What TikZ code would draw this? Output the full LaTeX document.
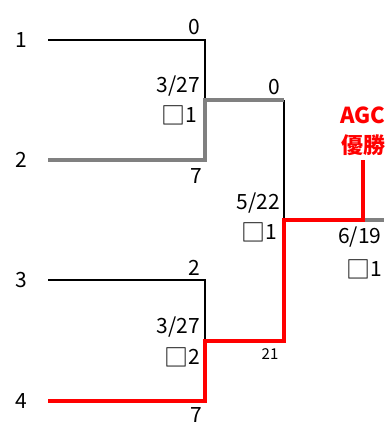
\documentclass[tikz,border=0pt]{standalone}
\usepackage{fontspec}
\setmainfont{Noto Sans CJK JP}
\newcommand{\sqbox}{\raisebox{-1.5pt}{\fontsize{24}{24}\selectfont □}}
\begin{document}
\begin{tikzpicture}[x=1pt,y=-1pt,
  lbl/.style={inner sep=0pt,font=\fontsize{21}{21}\selectfont},
  small/.style={inner sep=0pt,font=\fontsize{15}{15}\selectfont},
  win/.style={inner sep=0pt,text=red,font=\fontsize{22}{22}\selectfont\bfseries},
  thinline/.style={black,line width=2pt},
  grayline/.style={gray,line width=4pt},
  redline/.style={red,line width=4pt}]
\useasboundingbox (0,0) rectangle (384,426);
% coordinates
\coordinate (p1) at (48,40);
\coordinate (p2) at (48,160);
\coordinate (p3) at (48,280);
\coordinate (p4) at (48,401);
\coordinate (a1) at (205,40);
\coordinate (a2) at (205,160);
\coordinate (am) at (205,100);
\coordinate (b1) at (205,280);
\coordinate (b2) at (205,401);
\coordinate (bm) at (205,341);
\coordinate (c1) at (284,100);
\coordinate (c2) at (284,341);
\coordinate (cm) at (284,220);
\coordinate (d) at (363,220);
\coordinate (dt) at (363,160);
\coordinate (e) at (384,220);
% lines
\draw[thinline] (p1) -- (a1) -- (am);
\draw[thinline] (p3) -- (b1) -- (bm);
\draw[thinline] (c1) -- (cm);
\draw[grayline] (p2) -- (a2) -- (am) -- (c1);
\draw[grayline] (d) -- (e);
\draw[redline] (p4) -- (b2) -- (bm) -- (c2) -- (cm) -- (d) -- (dt);
% labels
\node[lbl] (n1) at (21,40) {1};
\node[lbl] (n2) at (21,160) {2};
\node[lbl] (n3) at (21,280) {3};
\node[lbl] (n4) at (21,401) {4};
\node[lbl,anchor=east] (s1) at (200,27) {0};
\node[lbl,anchor=east] (d1) at (200,86) {3/27};
\node[lbl,anchor=east] (r1) at (197,115) {\sqbox1};
\node[lbl] (s2) at (196,176) {7};
\node[lbl,anchor=east] (s3) at (280,87) {0};
\node[lbl,anchor=east] (d2) at (280,203) {5/22};
\node[lbl,anchor=east] (r2) at (277,232) {\sqbox1};
\node[lbl,anchor=west] (d3) at (338,237) {6/19};
\node[lbl,anchor=west] (r3) at (346,269) {\sqbox1};
\node[win,anchor=west] (w1) at (340,115) {AGC};
\node[win,anchor=west] (w2) at (341,145) {優勝};
\node[lbl,anchor=east] (s4) at (200,268) {2};
\node[lbl,anchor=east] (d4) at (200,327) {3/27};
\node[lbl,anchor=east] (r4) at (200,357) {\sqbox2};
\node[small] (s5) at (270,354) {21};
\node[lbl] (s6) at (196,415) {7};
\end{tikzpicture}
\end{document}
